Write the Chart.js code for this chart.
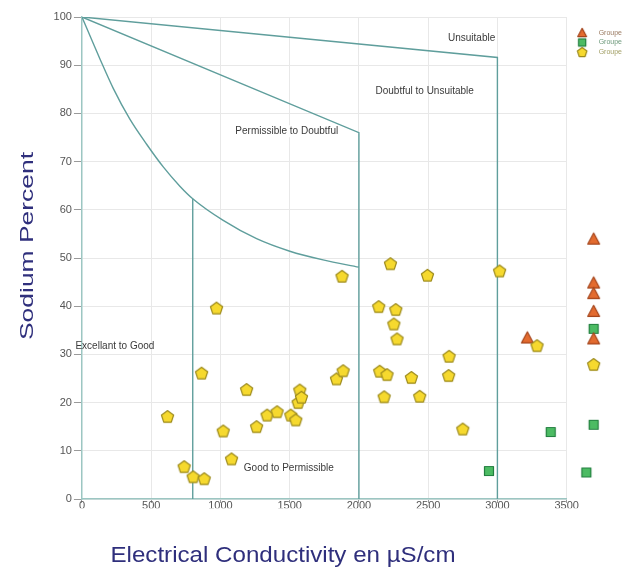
<!DOCTYPE html>
<html>
<head>
<meta charset="utf-8">
<title>Wilcox diagram</title>
<script src="https://cdn.jsdelivr.net/npm/chart.js@4.4.1/dist/chart.umd.min.js"></script>
<style>
  html, body { margin: 0; padding: 0; background: #fff; }
  #wilcox { display: block; }
</style>
</head>
<body>
<canvas id="wilcox" width="632" height="568"></canvas>
<script>
// --- Values (EC in µS/cm, sodium in %) ---
// the samples past 3500 are listed first so the data is not x-sorted
// (Chart.js would otherwise skip them as "outside" the x range)
const xTicksStep = 500;
const yTicksStep = 10;
const xTitle = 'Electrical Conductivity en µS/cm';
const yTitle = 'Sodium Percent';
const groupNames = ['Groupe', 'Groupe', 'Groupe'];

const yellowEC = [3695, 618, 738, 803, 864, 883, 972, 1020, 1080, 1189, 1261, 1337, 1409, 1508, 1544, 1561,
  1573, 1585, 1838, 1878, 1886, 2143, 2150, 2182, 2203, 2228, 2252, 2266, 2275, 2379, 2439, 2495,
  2648, 2651, 2750, 3016, 3286];
const yellowNa = [27.9, 17.1, 6.7, 4.6, 26.1, 4.2, 39.6, 14.1, 8.3, 22.7, 15.0, 17.4, 18.1, 17.4, 16.4, 20.0,
  22.6, 21.1, 24.9, 46.2, 26.6, 39.9, 26.5, 21.2, 25.8, 48.8, 36.3, 39.3, 33.2, 25.2, 21.3, 46.4,
  25.6, 29.6, 14.5, 47.3, 31.8];

const orangeEC = [3695, 3695, 3695, 3695, 3695, 3216];
const orangeNa = [53.9, 44.8, 42.6, 38.9, 33.2, 33.4];

const greenEC = [3695, 3695, 3642, 2939, 3385];
const greenNa = [35.3, 15.4, 5.5, 5.8, 13.9];

// class boundaries
const unsuitableEC = [0, 3000, 3000];
const unsuitableNa = [100, 91.6, 0];
const doubtfulEC = [0, 2000, 2000];
const doubtfulNa = [100, 76, 0];
const curveEC = [0, 130, 226, 346, 467, 587, 707, 800, 1020, 1261, 1501, 1741, 2000];
const curveNa = [100, 91.3, 85.2, 78.8, 73.6, 68.9, 64.9, 62.3, 57.8, 54.0, 51.4, 49.6, 48.1];
const excellentEC = [800, 800];
const excellentNa = [62.3, 0];

// zone names, placed in data units
const zoneNames = ['Unsuitable', 'Doubtful to Unsuitable', 'Permissible to Doubtful', 'Excellant to Good', 'Good to Permissible'];
const zoneEC = [2814, 2475, 1479, 238, 1494];
const zoneNa = [95.6, 84.6, 76.3, 31.6, 6.4];

const FONT = '"Liberation Sans", Arial, sans-serif';
const LINE = '#5f9e9c';

const pts = (xs, ys) => xs.map((x, i) => ({ x, y: ys[i] }));

/* --- marker images (pentagon is not a built-in point style) --- */
function marker(shape, s, fill, stroke) {
  const c = document.createElement('canvas');
  c.width = c.height = Math.ceil(s * 2 + 4);
  const g = c.getContext('2d');
  const m = c.width / 2;
  g.beginPath();
  if (shape === 'triangle') {
    g.moveTo(m, m - s);
    g.lineTo(m + s * 0.95, m + s * 0.78);
    g.lineTo(m - s * 0.95, m + s * 0.78);
  } else if (shape === 'square') {
    const h = s * 0.75;
    g.rect(m - h, m - h, 2 * h, 2 * h);
  } else {
    for (let k = 0; k < 5; k++) {
      const a = -Math.PI / 2 + k * 2 * Math.PI / 5;
      const px = m + s * Math.cos(a), py = m + 0.5 + s * Math.sin(a);
      k ? g.lineTo(px, py) : g.moveTo(px, py);
    }
  }
  g.closePath();
  g.fillStyle = fill;
  g.fill();
  g.lineJoin = 'round';
  g.lineWidth = 1.2;
  g.strokeStyle = stroke;
  g.stroke();
  return c;
}

const colTri = ['#e36b2f', '#a5451c'];
const colSq = ['#4cbb63', '#237f40'];
const colPent = ['#f6d92e', '#9c8a1c'];

const triMark = marker('triangle', 6.2, ...colTri);
const sqMark = marker('square', 6, ...colSq);
const pentMark = marker('pentagon', 6.4, ...colPent);
const legendMarks = [marker('triangle', 4.6, ...colTri), marker('square', 4.8, ...colSq), marker('pentagon', 5, ...colPent)];
const legendColors = ['#9b7b62', '#6e9a7c', '#a3a067'];

function pointSet(label, data, img) {
  // big radius only widens the in-area test so the column past 3500 is still drawn
  return { label, data, pointStyle: img, pointRadius: 30, borderWidth: 0, clip: false, showLine: false };
}
function lineSet(data, extra) {
  return Object.assign({ data, showLine: true, pointRadius: 0, borderColor: LINE, borderWidth: 1.4, fill: false }, extra || {});
}

/* --- zone names + axis titles --- */
const zoneText = {
  id: 'zoneText',
  afterDatasetsDraw(chart) {
    const { ctx, scales: { x, y } } = chart;
    ctx.save();
    ctx.font = '10px ' + FONT;
    ctx.textAlign = 'center';
    ctx.textBaseline = 'middle';
    zoneNames.forEach((t, i) => {
      const px = x.getPixelForValue(zoneEC[i]);
      const py = y.getPixelForValue(zoneNa[i]);
      if (i === 2) {
        const w = ctx.measureText(t).width;
        ctx.fillStyle = '#fff';
        ctx.fillRect(px - w / 2 - 1, py - 6, w + 2, 12);
      }
      ctx.fillStyle = '#3a3a3a';
      ctx.fillText(t, px, py);
    });
    ctx.restore();
  }
};

const axisTitles = {
  id: 'axisTitles',
  afterDraw(chart) {
    const ctx = chart.ctx;
    ctx.save();
    ctx.fillStyle = '#2f2f7c';
    ctx.textAlign = 'center';
    ctx.textBaseline = 'alphabetic';

    ctx.font = '22px ' + FONT;
    let w = ctx.measureText(xTitle).width;
    ctx.translate(283, 562);
    ctx.scale(345 / w, 1);
    ctx.fillText(xTitle, 0, 0);
    ctx.restore();

    ctx.save();
    ctx.fillStyle = '#2f2f7c';
    ctx.textAlign = 'center';
    ctx.textBaseline = 'alphabetic';
    ctx.font = '18px ' + FONT;
    w = ctx.measureText(yTitle).width;
    ctx.translate(32.5, 246);
    ctx.rotate(-Math.PI / 2);
    ctx.scale(188 / w, 1);
    ctx.fillText(yTitle, 0, 0);
    ctx.restore();
  }
};

Chart.defaults.font.family = FONT;

new Chart(document.getElementById('wilcox'), {
  type: 'scatter',
  data: {
    datasets: [
      pointSet(groupNames[2], pts(yellowEC, yellowNa), pentMark),
      pointSet(groupNames[0], pts(orangeEC, orangeNa), triMark),
      pointSet(groupNames[1], pts(greenEC, greenNa), sqMark),
      lineSet(pts(unsuitableEC, unsuitableNa)),
      lineSet(pts(doubtfulEC, doubtfulNa)),
      lineSet(pts(curveEC, curveNa), { cubicInterpolationMode: 'monotone' }),
      lineSet(pts(excellentEC, excellentNa)),
    ],
  },
  options: {
    responsive: false,
    animation: false,
    events: [],
    layout: { autoPadding: false, padding: { left: 51.6, right: 0, top: 17, bottom: 59.8 } },
    scales: {
      x: {
        type: 'linear',
        min: 0,
        max: 3500,
        ticks: { stepSize: xTicksStep, color: '#555', font: { size: 11 }, padding: -4, maxRotation: 0, callback: (v) => String(v) },
        grid: { color: '#e8e8e8', tickColor: '#9a9a9a', tickLength: 4 },
        border: { color: '#9cc6c2', width: 1.5 },
      },
      y: {
        min: 0,
        max: 100,
        ticks: { stepSize: yTicksStep, color: '#555', font: { size: 11 }, padding: 2 },
        grid: { color: '#e8e8e8', tickColor: '#9a9a9a', tickLength: 8 },
        border: { color: '#9cc6c2', width: 1.5 },
      },
    },
    plugins: {
      tooltip: { enabled: false },
      legend: {
        position: 'right',
        align: 'start',
        title: { display: true, text: '', font: { size: 7 }, padding: { top: 1.6, bottom: 0 } },
        labels: {
          usePointStyle: true,
          pointStyleWidth: 26,
          padding: 2.5,
          font: { size: 7 },
          generateLabels: () => groupNames.map((t, i) => ({
            text: t,
            pointStyle: legendMarks[i],
            fontColor: legendColors[i],
            lineWidth: 0,
            hidden: false,
            datasetIndex: i,
          })),
        },
      },
    },
  },
  plugins: [zoneText, axisTitles],
});
</script>
</body>
</html>
